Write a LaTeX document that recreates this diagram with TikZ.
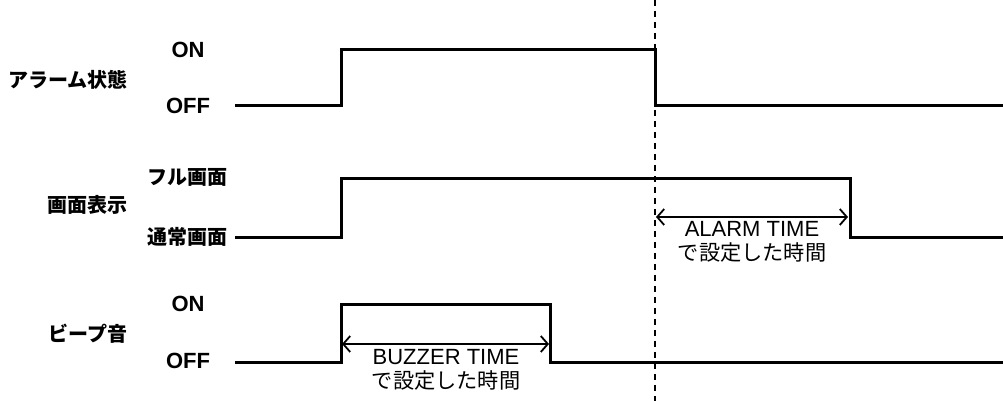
\documentclass[tikz,border=0pt]{standalone}
\usepackage{fontspec}
\setmainfont{Liberation Sans}
\newfontfamily\jp{Noto Sans CJK JP}
\usepackage{tikz}
\usetikzlibrary{arrows.meta}

\begin{document}
\begin{tikzpicture}[
    x=0.5pt, y={(0pt,-0.5pt)},
    signame/.style={anchor=east, font=\jp\bfseries\fontsize{10}{12}\selectfont, inner sep=0pt},
    level/.style={anchor=center, font=\bfseries\fontsize{11}{13}\selectfont, inner sep=0pt},
    jplevel/.style={anchor=center, font=\jp\bfseries\fontsize{10}{12}\selectfont, inner sep=0pt},
    note/.style={align=center, font=\fontsize{11}{12}\selectfont, inner sep=0pt},
    wave/.style={line width=1.5pt, line join=miter},
    span/.style={{Straight Barb[length=3.5pt,width=8pt]}-{Straight Barb[length=3.5pt,width=8pt]}, line width=0.9pt},
    marker/.style={dash pattern=on 3pt off 2.5pt, line width=0.9pt}
]
\useasboundingbox (0,0) rectangle (1003,401);

% signal names and levels
\node[signame] (alarm) at (128,80) {アラーム状態};
\node[level] (alarmon) at (188,50) {ON};
\node[level] (alarmoff) at (188,106) {OFF};
\node[signame] (screen) at (128,205) {画面表示};
\node[jplevel] (screenfull) at (188,177) {フル画面};
\node[jplevel] (screennorm) at (188,237) {通常画面};
\node[signame] (beep) at (128,334) {ビープ音};
\node[level] (beepon) at (188,304) {ON};
\node[level] (beepoff) at (188,361) {OFF};

% alarm release
\draw[marker] (655,0) -- (655,401);

% waveforms
\draw[wave] (235,106) -- (341,106) -- (341,50) -- (655,50) -- (655,106) -- (1003,106);
\draw[wave] (235,238) -- (341,238) -- (341,179) -- (850,179) -- (850,238) -- (1003,238);
\draw[wave] (235,362) -- (341,362) -- (341,305) -- (550,305) -- (550,362) -- (1003,362);

% durations
\coordinate (almstart) at (656,217);
\coordinate (almend) at (848,217);
\draw[span] (almstart) -- (almend);
\node[note] (almtime) at (752,242) {ALARM TIME\\{\jp\fontsize{10.6}{12}\selectfont で設定した時間}};

\coordinate (bzstart) at (342,344);
\coordinate (bzend) at (549,344);
\draw[span] (bzstart) -- (bzend);
\node[note] (bztime) at (446,370) {BUZZER TIME\\{\jp\fontsize{10.6}{12}\selectfont で設定した時間}};
\end{tikzpicture}
\end{document}
